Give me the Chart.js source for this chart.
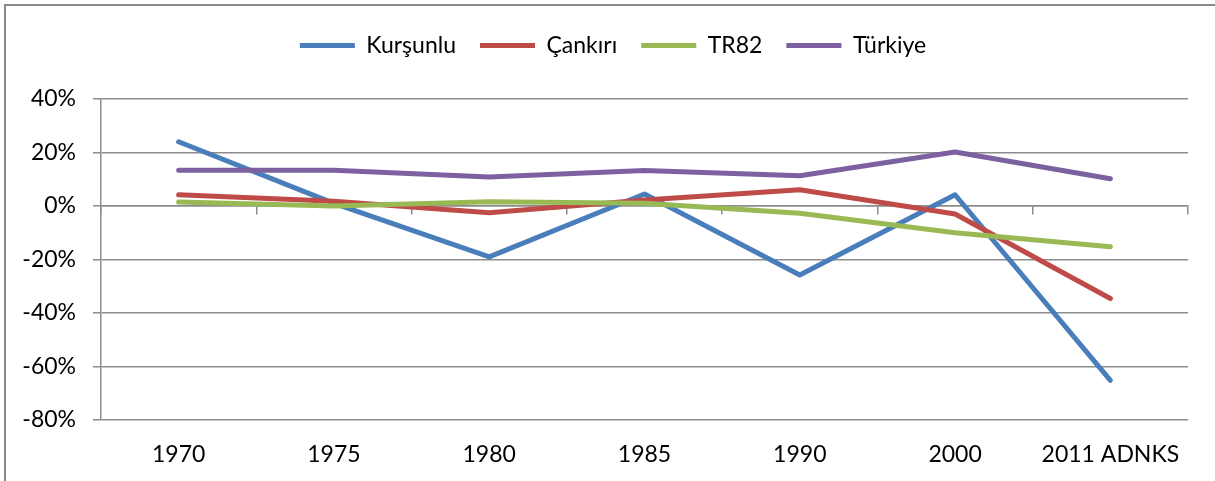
<!DOCTYPE html>
<html>
<head>
<meta charset="utf-8">
<script src="https://cdn.jsdelivr.net/npm/chart.js@4"></script>
<style>
html,body{margin:0;padding:0;background:#fff;}
#wrap{position:relative;width:1215px;height:481px;}
</style>
</head>
<body>
<div id="wrap"><canvas id="c" width="1215" height="481"></canvas></div>
<script>
const categories = ['1970', '1975', '1980', '1985', '1990', '2000', '2011 ADNKS'];
const kursunlu = [24, 1, -19, 4.5, -25.8, 4.2, -65.2];
const cankiri = [4.2, 1.8, -2.5, 2.2, 6.1, -3, -34.6];
const tr82 = [1.5, 0, 1.6, 1, -2.7, -10, -15.2];
const turkiye = [13.4, 13.4, 10.8, 13.3, 11.3, 20.2, 10.2];
const yTicks = [-80, -60, -40, -20, 0, 20, 40];

const FONT = 'Lato, "Liberation Sans", sans-serif';
const gridColor = '#8c8c8c';

const framePlugin = {
  id: 'frame',
  beforeDraw(chart) {
    const ctx = chart.ctx;
    ctx.save();
    ctx.fillStyle = '#fff';
    ctx.fillRect(0, 0, chart.width, chart.height);
    ctx.strokeStyle = '#8a8a8a';
    ctx.lineWidth = 2;
    ctx.beginPath();
    ctx.moveTo(5, chart.height);
    ctx.lineTo(5, 5);
    ctx.lineTo(chart.width, 5);
    ctx.stroke();
    ctx.restore();
  }
};

const legendSpace = {
  id: 'legendSpace',
  beforeInit(chart) {
    const origFit = chart.legend.fit;
    chart.legend.fit = function () {
      origFit.bind(chart.legend)();
      this.height += 32;
    };
  },
  afterLayout(chart) {
    chart.legend.left += 38;
  }
};

function ds(label, data, color, order) {
  return {
    label, data,
    borderColor: color, backgroundColor: color,
    borderWidth: 5, pointRadius: 0, pointHoverRadius: 0,
    tension: 0, borderCapStyle: 'round', borderJoinStyle: 'round',
    order
  };
}

new Chart(document.getElementById('c'), {
  type: 'line',
  data: {
    labels: categories,
    datasets: [
      ds('Kurşunlu', kursunlu, '#4a7ebb', 4),
      ds('Çankırı', cankiri, '#be4b48', 3),
      ds('TR82', tr82, '#98b954', 2),
      ds('Türkiye', turkiye, '#7d60a0', 1)
    ]
  },
  plugins: [framePlugin, legendSpace],
  options: {
    responsive: false,
    animation: false,
    layout: { padding: { left: 0, right: 27, top: 10, bottom: 0 } },
    plugins: {
      tooltip: { enabled: false },
      legend: {
        display: true,
        position: 'top',
        align: 'center',
        labels: {
          usePointStyle: true,
          pointStyle: 'line',
          pointStyleWidth: 55,
          boxHeight: 23,
          padding: 24,
          color: '#000',
          font: { family: FONT, size: 23 },
          sort: (a, b) => a.datasetIndex - b.datasetIndex
        }
      }
    },
    scales: {
      x: {
        type: 'category',
        position: 'bottom',
        offset: true,
        grid: { display: false, drawTicks: false },
        border: { display: false },
        ticks: { color: '#000', font: { family: FONT, size: 23 }, padding: 21, maxRotation: 0, autoSkip: false },
        afterFit(scale) { scale.height = 61; }
      },
      x2: {
        type: 'category',
        labels: categories,
        position: { y: 0 },
        offset: true,
        grid: { display: true, drawOnChartArea: false, offset: true, tickLength: 8, color: gridColor, lineWidth: 1.5 },
        border: { display: true, color: gridColor, width: 1.5 },
        ticks: { display: false }
      },
      y: {
        type: 'linear',
        min: -80, max: 40,
        afterBuildTicks(scale) { scale.ticks = yTicks.map(v => ({ value: v })); },
        grid: { color: gridColor, lineWidth: 1.5, tickLength: 8, drawTicks: true },
        border: { display: true, color: gridColor, width: 1.5 },
        ticks: { color: '#000', font: { family: FONT, size: 23 }, padding: 17, callback: v => v + '%' },
        afterFit(scale) { scale.width = 101; }
      }
    }
  }
});
</script>
</body>
</html>
